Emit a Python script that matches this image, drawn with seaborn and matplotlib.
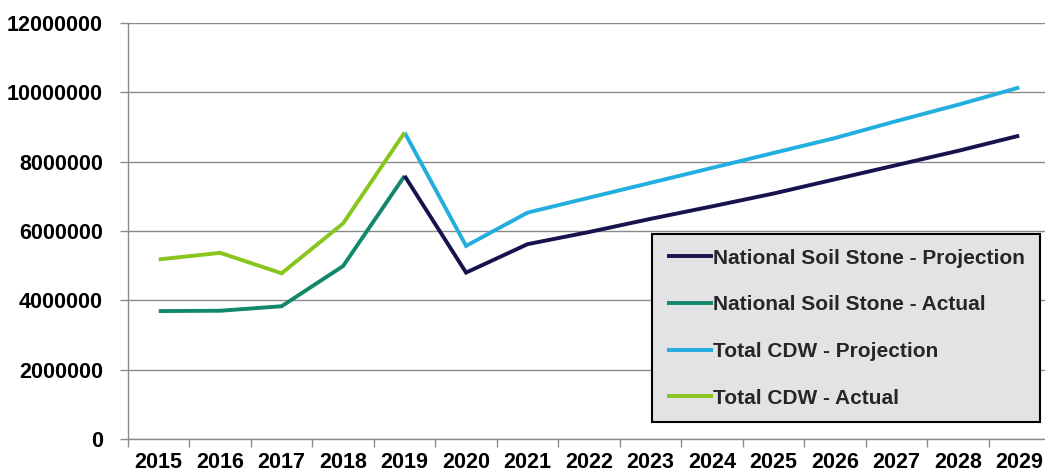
import matplotlib
matplotlib.use("Agg")
import matplotlib.pyplot as plt
from matplotlib.ticker import FixedLocator, FuncFormatter
import seaborn as sns
import pandas as pd

years = list(range(2015, 2030))
actual_years = [2015, 2016, 2017, 2018, 2019]
proj_years = [2019, 2020, 2021, 2022, 2023, 2024, 2025, 2026, 2027, 2028, 2029]

nss_actual = [3690000, 3700000, 3830000, 4990000, 7590000]
cdw_actual = [5180000, 5370000, 4780000, 6220000, 8840000]
nss_proj = [7590000, 4800000, 5620000, 5970000, 6350000, 6710000, 7080000, 7490000, 7900000, 8310000, 8750000]
cdw_proj = [8840000, 5570000, 6530000, 6960000, 7390000, 7820000, 8250000, 8680000, 9170000, 9640000, 10140000]

series_names = ["National Soil Stone - Projection", "National Soil Stone - Actual",
                "Total CDW - Projection", "Total CDW - Actual"]
colors = ["#16134f", "#12886a", "#22aede", "#88c61e"]
y_ticks = [0, 2000000, 4000000, 6000000, 8000000, 10000000, 12000000]

sns.set_theme(style="white")
plt.rcParams['font.family'] = ['Liberation Sans', 'DejaVu Sans']

fig = plt.figure(figsize=(10.45, 4.76), dpi=100)
ax = fig.add_axes([128/1045, 37/476, 922/1045, 416/476])

frames = [
    (proj_years, nss_proj),
    (actual_years, nss_actual),
    (proj_years, cdw_proj),
    (actual_years, cdw_actual),
]
draw_order = [2, 3, 1, 0]
for i in draw_order:
    xs, ys = frames[i]
    df = pd.DataFrame({"year": xs, "value": ys})
    sns.lineplot(data=df, x="year", y="value", ax=ax, color=colors[i], linewidth=2.8,
                 label=series_names[i], solid_capstyle="butt", solid_joinstyle="miter")

ax.set_xlim(2014.5, 2029.5)
ax.set_ylim(0, 12000000)
ax.set_xlabel("")
ax.set_ylabel("")
ax.yaxis.set_major_locator(FixedLocator(y_ticks))
ax.yaxis.set_major_formatter(FuncFormatter(lambda v, p: f"{int(v)}"))
ax.xaxis.set_major_locator(FixedLocator(years))
ax.xaxis.set_minor_locator(FixedLocator([y + 0.5 for y in range(2014, 2030)]))
ax.set_xticklabels([str(y) for y in years])
ax.grid(axis="y", color="#8a8a8a", linewidth=1.0)
ax.set_axisbelow(True)
for s in ["top", "right"]:
    ax.spines[s].set_visible(False)
for s in ["left", "bottom"]:
    ax.spines[s].set_color("#8a8a8a")
    ax.spines[s].set_linewidth(1.0)

ax.tick_params(axis="x", which="major", length=0, pad=9, labelsize=15.5, colors="black")
ax.tick_params(axis="x", which="minor", length=6, color="#8a8a8a", width=1, direction="out", bottom=True)
ax.tick_params(axis="y", which="major", length=6, color="#8a8a8a", width=1, direction="out", left=True,
               labelsize=15.5, pad=12, colors="black")
for lab in ax.get_xticklabels() + ax.get_yticklabels():
    lab.set_fontweight("bold")

h, l = ax.get_legend_handles_labels()
order = [l.index(n) for n in series_names]
leg = ax.legend([h[k] for k in order], [l[k] for k in order],
                loc="upper left", bbox_to_anchor=(652/1045, 1 - 234/476),
                bbox_transform=fig.transFigure, frameon=True, fancybox=False,
                facecolor="#e3e3e6", edgecolor="black", framealpha=1,
                prop={"weight": "bold", "size": 15}, handlelength=2.25, handletextpad=0.0,
                labelspacing=1.33, borderpad=0.7, borderaxespad=0)
leg.get_frame().set_linewidth(1.5)

fig.savefig("out.png", dpi=100)
